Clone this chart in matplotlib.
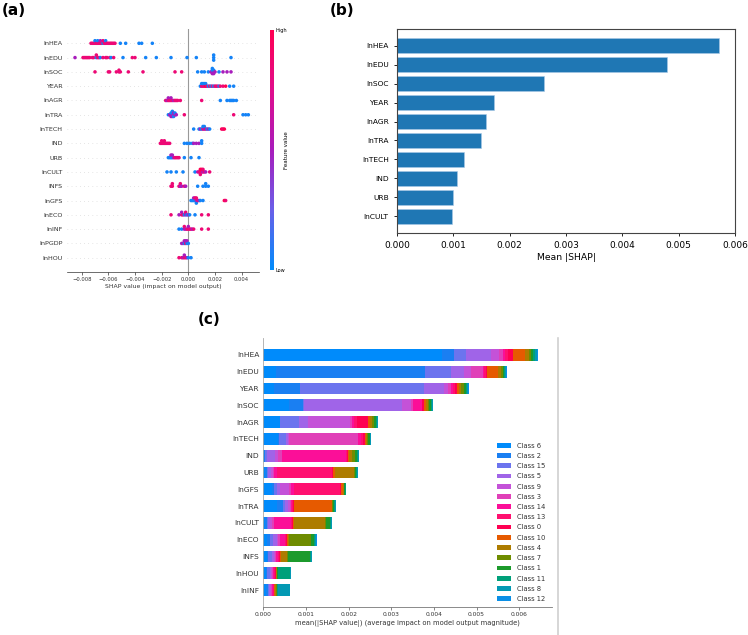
import numpy as np
import matplotlib

matplotlib.use("Agg")
import matplotlib.pyplot as plt
from matplotlib.colors import LinearSegmentedColormap
from matplotlib.cm import ScalarMappable
from matplotlib.lines import Line2D

# ---------------- panel (a): beeswarm data ----------------
a_features = ["lnHEA", "lnEDU", "lnSOC", "YEAR", "lnAGR", "lnTRA", "lnTECH", "IND",
              "URB", "lnCULT", "INFS", "lnGFS", "lnECO", "lnINF", "lnPGDP", "lnHOU"]

# feature value levels (0 = low/blue, 1 = high/red)
b, v, p, r = 0.05, 0.5, 0.85, 1.0

hea_x = [-0.0073, -0.0072, -0.0071, -0.0070, -0.0070, -0.0069, -0.0068, -0.0068, -0.0067, -0.0066,
         -0.0066, -0.0065, -0.0064, -0.0064, -0.0063, -0.0062, -0.0062, -0.0061, -0.0060, -0.0059,
         -0.0058, -0.0057, -0.0056, -0.0055, -0.0051, -0.0047, -0.0037, -0.0035, -0.0027]
hea_c = [p, p, p, p, b, p, p, b, p, p, v, p, b, p, p, p, b, p, p, p, p, p, p, p, b, b, b, b, b]
edu_x = [-0.0085, -0.0079, -0.0078, -0.0077, -0.0076, -0.0075, -0.0074, -0.0072, -0.0071, -0.0069,
         -0.0069, -0.0068, -0.0067, -0.0066, -0.0064, -0.0062, -0.0061, -0.0059, -0.0058, -0.0056,
         -0.0049, -0.0042, -0.0040, -0.0032, -0.0024, -0.0013, -0.0001, 0.0006, 0.0019, 0.0019,
         0.0019, 0.0032]
edu_c = [v, p, p, p, p, p, p, p, p, b, p, p, p, b, p, p, p, p, b, p, b, p, p, b, b, b, b, b, b, b, b, b]
soc_x = [-0.0070, -0.0060, -0.0059, -0.0054, -0.0052, -0.0052, -0.0051, -0.0045, -0.0034, -0.0010,
         -0.0005, 0.0007, 0.0010, 0.0012, 0.0015, 0.0017, 0.0018, 0.0018, 0.0018, 0.0018, 0.0019,
         0.0019, 0.0019, 0.0020, 0.0023, 0.0026, 0.0029, 0.0032]
soc_c = [p, p, p, p, p, p, p, p, p, p, p, b, b, b, b, v, v, b, v, b, v, b, v, v, b, v, v, v]
year_x = [0.0009, 0.0010, 0.0010, 0.0011, 0.0011, 0.0012, 0.0012, 0.0013, 0.0013, 0.0014, 0.0015,
          0.0016, 0.0017, 0.0018, 0.0019, 0.0020, 0.0021, 0.0022, 0.0023, 0.0024, 0.0026, 0.0028,
          0.0031, 0.0034]
year_c = [b, p, b, p, b, p, b, r, b, p, b, p, b, p, b, p, p, p, b, p, p, r, b, b]
agr_x = [-0.0017, -0.0016, -0.0015, -0.0015, -0.0014, -0.0013, -0.0013, -0.0012, -0.0011, -0.0010,
         -0.0009, -0.0008, -0.0006, 0.0010, 0.0024, 0.0029, 0.0031, 0.0032, 0.0033, 0.0034, 0.0036]
agr_c = [p, v, p, v, p, p, v, p, v, p, p, p, p, p, b, b, b, b, b, b, b]
tra_x = [-0.0015, -0.0014, -0.0013, -0.0013, -0.0013, -0.0012, -0.0012, -0.0012, -0.0012, -0.0011,
         -0.0011, -0.0011, -0.0010, -0.0010, -0.0009, -0.0003, 0.0034, 0.0041, 0.0043, 0.0045]
tra_c = [b, v, v, b, v, v, b, v, b, v, v, b, v, b, v, p, p, b, b, b]
tech_x = [0.0004, 0.0008, 0.0009, 0.0010, 0.0011, 0.0011, 0.0012, 0.0012, 0.0013, 0.0014, 0.0015,
          0.0016, 0.0025, 0.0026, 0.0027]
tech_c = [b, b, v, b, p, b, v, b, p, b, v, b, r, p, r]
ind_x = [-0.0021, -0.0020, -0.0020, -0.0019, -0.0018, -0.0018, -0.0017, -0.0016, -0.0015, -0.0014,
         -0.0003, -0.0001, 0.0001, 0.0003, 0.0004, 0.0006, 0.0008, 0.0010, 0.0010]
ind_c = [p, p, p, p, p, p, p, p, p, p, b, b, b, b, v, v, v, b, b]
urb_x = [-0.0015, -0.0014, -0.0013, -0.0013, -0.0012, -0.0012, -0.0011, -0.0010, -0.0009, -0.0008,
         -0.0007, -0.0003, 0.0002, 0.0008]
urb_c = [b, b, b, v, b, v, v, p, p, p, p, b, b, b]
cult_x = [-0.0016, -0.0013, -0.0009, -0.0004, 0.0005, 0.0007, 0.0008, 0.0009, 0.0009, 0.0009, 0.0010,
          0.0010, 0.0011, 0.0011, 0.0012, 0.0013, 0.0016]
cult_c = [b, b, b, b, b, v, p, p, r, p, p, r, v, p, p, v, p]
infs_x = [-0.0013, -0.0012, -0.0012, -0.0007, -0.0006, -0.0006, -0.0005, -0.0003, -0.0002, 0.0007,
          0.0011, 0.0013, 0.0013, 0.0015]
infs_c = [p, p, p, p, v, p, v, p, v, b, b, b, b, b]
gfs_x = [0.0002, 0.0003, 0.0004, 0.0004, 0.0005, 0.0005, 0.0006, 0.0006, 0.0006, 0.0007, 0.0008,
         0.0009, 0.0011, 0.0027, 0.0028]
gfs_c = [b, b, b, v, b, p, v, p, b, p, v, b, b, r, p]
eco_x = [-0.0013, -0.0007, -0.0005, -0.0005, -0.0004, -0.0003, -0.0002, -0.0002, -0.0001, 0.0000,
         0.0001, 0.0005, 0.0010, 0.0015]
eco_c = [p, v, p, v, p, b, v, p, b, v, b, b, p, p]
inf_x = [-0.0007, -0.0005, -0.0003, -0.0003, -0.0002, -0.0001, 0.0000, 0.0000, 0.0001, 0.0002,
         0.0003, 0.0004, 0.0010, 0.0015]
inf_c = [b, b, v, p, v, p, p, v, p, p, v, p, p, p]
pgdp_x = [-0.0005, -0.0004, -0.0003, -0.0003, -0.0002, -0.0002, -0.0001, -0.0001, 0.0000]
pgdp_c = [v, v, b, v, p, v, b, v, b]
hou_x = [-0.0007, -0.0005, -0.0004, -0.0003, -0.0003, -0.0002, -0.0001, 0.0000, 0.0002]
hou_c = [p, p, v, p, v, p, v, b, b]

a_x = [hea_x, edu_x, soc_x, year_x, agr_x, tra_x, tech_x, ind_x, urb_x, cult_x, infs_x,
       gfs_x, eco_x, inf_x, pgdp_x, hou_x]
a_c = [hea_c, edu_c, soc_c, year_c, agr_c, tra_c, tech_c, ind_c, urb_c, cult_c, infs_c,
       gfs_c, eco_c, inf_c, pgdp_c, hou_c]

# ---------------- panel (b) ----------------
b_features = ["lnHEA", "lnEDU", "lnSOC", "YEAR", "lnAGR", "lnTRA", "lnTECH", "IND", "URB", "lnCULT"]
b_values = [0.00572, 0.00479, 0.00261, 0.00173, 0.00158, 0.00149, 0.00119, 0.00107, 0.00100, 0.00097]

# ---------------- panel (c) ----------------
c_features = ["lnHEA", "lnEDU", "YEAR", "lnSOC", "lnAGR", "lnTECH", "IND", "URB", "lnGFS",
              "lnTRA", "lnCULT", "lnECO", "INFS", "lnHOU", "lnINF"]
class_names = ["Class 6", "Class 2", "Class 15", "Class 5", "Class 9", "Class 3", "Class 14",
               "Class 13", "Class 0", "Class 10", "Class 4", "Class 7", "Class 1", "Class 11",
               "Class 8", "Class 12"]
class_colors = ["#008bfb", "#1a7ff2", "#6c74ee", "#a064e8", "#c452d8", "#e040b8", "#fb0f98",
                "#ff1070", "#ff0052", "#e65a00", "#ad7c00", "#6f8c00", "#1c9a2c", "#00a07a",
                "#0399b3", "#0a8fe6"]
cls6 = [0.00418, 0.00030, 0.00025, 0.00061, 0.00038, 0.00035, 0.00002, 0.00004, 0.00020, 0.00031, 0.00004, 0.00009, 0.00008, 0.00006, 0.00006]
cls2 = [0.00029, 0.00349, 0.00061, 0.00031, 0.00002, 0.00002, 0.00003, 0.00004, 0.00004, 0.00016, 0.00004, 0.00006, 0.00004, 0.00003, 0.00004]
cls15 = [0.00027, 0.00060, 0.00291, 0.00004, 0.00043, 0.00016, 0.00004, 0.00004, 0.00009, 0.00004, 0.00004, 0.00008, 0.00008, 0.00006, 0.00004]
cls5 = [0.00059, 0.00032, 0.00047, 0.00228, 0.00021, 0.00004, 0.00018, 0.00006, 0.00005, 0.00008, 0.00004, 0.00008, 0.00005, 0.00004, 0.00002]
cls9 = [0.00020, 0.00017, 0.00008, 0.00022, 0.00100, 0.00004, 0.00008, 0.00004, 0.00023, 0.00004, 0.00004, 0.00004, 0.00003, 0.00002, 0.00002]
cls3 = [0.00009, 0.00026, 0.00009, 0.00004, 0.00004, 0.00162, 0.00008, 0.00003, 0.00005, 0.00003, 0.00004, 0.00004, 0.00002, 0.00002, 0.00002]
cls14 = [0.00005, 0.00004, 0.00004, 0.00021, 0.00004, 0.00006, 0.00152, 0.00008, 0.00005, 0.00002, 0.00041, 0.00012, 0.00004, 0.00002, 0.00002]
cls13 = [0.00007, 0.00003, 0.00004, 0.00002, 0.00008, 0.00005, 0.00002, 0.00127, 0.00109, 0.00002, 0.00002, 0.00002, 0.00002, 0.00002, 0.00002]
cls0 = [0.00012, 0.00004, 0.00004, 0.00003, 0.00025, 0.00005, 0.00002, 0.00004, 0.00003, 0.00002, 0.00002, 0.00002, 0.00002, 0.00002, 0.00002]
cls10 = [0.00028, 0.00026, 0.00005, 0.00005, 0.00006, 0.00002, 0.00002, 0.00004, 0.00003, 0.00088, 0.00002, 0.00002, 0.00003, 0.00001, 0.00001]
cls4 = [0.00008, 0.00005, 0.00006, 0.00004, 0.00004, 0.00003, 0.00006, 0.00045, 0.00003, 0.00001, 0.00074, 0.00003, 0.00014, 0.00001, 0.00002]
cls7 = [0.00005, 0.00005, 0.00006, 0.00004, 0.00004, 0.00002, 0.00009, 0.00002, 0.00001, 0.00002, 0.00002, 0.00052, 0.00004, 0.00001, 0.00002]
cls1 = [0.00005, 0.00004, 0.00005, 0.00005, 0.00005, 0.00003, 0.00004, 0.00002, 0.00002, 0.00002, 0.00010, 0.00008, 0.00051, 0.00002, 0.00002]
cls11 = [0.00005, 0.00002, 0.00003, 0.00002, 0.00002, 0.00002, 0.00002, 0.00002, 0.00002, 0.00003, 0.00002, 0.00002, 0.00002, 0.00029, 0.00002]
cls8 = [0.00004, 0.00002, 0.00002, 0.00002, 0.00002, 0.00002, 0.00002, 0.00002, 0.00001, 0.00002, 0.00002, 0.00002, 0.00002, 0.00001, 0.00027]
cls12 = [0.00004, 0.00002, 0.00001, 0.0, 0.00002, 0.0, 0.0, 0.0, 0.0, 0.00001, 0.00001, 0.00001, 0.0, 0.00001, 0.0]
class_vals = [cls6, cls2, cls15, cls5, cls9, cls3, cls14, cls13, cls0, cls10, cls4, cls7, cls1,
              cls11, cls8, cls12]

red_blue = LinearSegmentedColormap.from_list(
    "red_blue", ["#008bfb", "#6a5fe8", "#a81cbc", "#e00d8c", "#ff0052"])


def swarm(xs, width=0.0001, row_height=0.4):
    # shap-style beeswarm offsets
    xs = np.asarray(xs)
    quant = np.round(xs / width)
    order = np.argsort(quant, kind="stable")
    ys = np.zeros(len(xs))
    layer, last = 0, None
    for k in order:
        if quant[k] != last:
            layer = 0
        ys[k] = np.ceil(layer / 2) * ((layer % 2) * 2 - 1)
        layer += 1
        last = quant[k]
    ys *= 0.9 * (row_height / np.max(ys + 1))
    return ys


fig = plt.figure(figsize=(7.48, 6.35), dpi=100)
W, H = 748, 635


def box(x0, y0, x1, y1):
    return [x0 / W, 1 - y1 / H, (x1 - x0) / W, (y1 - y0) / H]


# ---- (a) ----
ax_a = fig.add_axes(box(67, 29, 259, 272))
n = len(a_features)
for i, (xs, cs) in enumerate(zip(a_x, a_c)):
    y = n - 1 - i
    ax_a.axhline(y, color="#cccccc", lw=0.5, dashes=(1, 5), zorder=-1)
    ax_a.scatter(xs, y + swarm(xs), c=cs, cmap=red_blue, vmin=0, vmax=1, s=6.5,
                 linewidths=0, zorder=3)
ax_a.axvline(0, color="#999999", lw=0.8, zorder=-1)
ax_a.set_yticks(range(n))
ax_a.set_yticklabels(a_features[::-1], fontsize=4.6, color="#333333")
ax_a.set_ylim(-1, n)
ax_a.set_xlim(-0.0091, 0.0053)
ax_a.set_xticks([-0.008, -0.006, -0.004, -0.002, 0.0, 0.002, 0.004])
ax_a.set_xticklabels(["\u22120.008", "\u22120.006", "\u22120.004", "\u22120.002", "0.000", "0.002", "0.004"],
                     fontsize=3.8, color="#333333")
ax_a.tick_params(axis="y", length=0, pad=3)
ax_a.tick_params(axis="x", length=2, width=0.5, pad=1.5, color="#333333")
for s in ["left", "right", "top"]:
    ax_a.spines[s].set_visible(False)
ax_a.spines["bottom"].set_linewidth(0.5)
ax_a.spines["bottom"].set_color("#333333")
ax_a.set_xlabel("SHAP value (impact on model output)", fontsize=4.4, labelpad=1.5, color="#333333")

cax = fig.add_axes(box(270, 30, 273.5, 270))
cb = fig.colorbar(ScalarMappable(cmap=red_blue), cax=cax, ticks=[0, 1])
cb.set_ticklabels(["Low", "High"])
cb.ax.tick_params(labelsize=3.6, length=0, pad=1.5)
cb.outline.set_visible(False)
cb.set_label("Feature value", fontsize=4, labelpad=-2)

fig.text(0.003, 0.995, "(a)", fontsize=11, fontweight="bold", va="top", ha="left")

# ---- (b) ----
ax_b = fig.add_axes(box(397, 29, 735, 233))
ax_b.barh(range(len(b_values)), b_values, color="#1f77b4", edgecolor="#a9c9e6", linewidth=0.4)
ax_b.set_yticks(range(len(b_features)))
ax_b.set_yticklabels(b_features, fontsize=5.4)
ax_b.invert_yaxis()
ax_b.set_xlim(0, 0.006)
ax_b.set_xticks(np.arange(0, 0.0061, 0.001))
ax_b.set_xticklabels(["0.000", "0.001", "0.002", "0.003", "0.004", "0.005", "0.006"], fontsize=6.5)
ax_b.tick_params(axis="both", length=2.5, width=0.6)
ax_b.set_xlabel("Mean |SHAP|", fontsize=6.7, labelpad=2)
for s in ax_b.spines.values():
    s.set_linewidth(0.8)
    s.set_color("#444444")
fig.text(330 / W, 0.995, "(b)", fontsize=11, fontweight="bold", va="top", ha="left")

# ---- (c) ----
ax_c = fig.add_axes(box(263.3, 338, 551.7, 607))
m = len(c_features)
ypos = np.arange(m)[::-1]
left = np.zeros(m)
for name, col, vals in zip(class_names, class_colors, class_vals):
    vals = np.asarray(vals)
    ax_c.barh(ypos, vals, 0.7, left=left, color=col, label=name, linewidth=0)
    left += vals
ax_c.set_yticks(ypos)
ax_c.set_yticklabels(c_features, fontsize=5.4, color="#333333")
ax_c.set_ylim(-1, m)
ax_c.set_xlim(0, 0.00676)
ax_c.set_xticks(np.arange(0, 0.0061, 0.001))
ax_c.set_xticklabels(["0.000", "0.001", "0.002", "0.003", "0.004", "0.005", "0.006"],
                     fontsize=4.3, color="#333333")
ax_c.tick_params(axis="y", length=0, pad=3)
ax_c.tick_params(axis="x", length=2, width=0.5, pad=1.5, color="#555555")
ax_c.spines["right"].set_visible(False)
ax_c.spines["top"].set_visible(False)
ax_c.spines["left"].set_color("#aaaaaa")
ax_c.spines["left"].set_linewidth(0.6)
ax_c.spines["bottom"].set_color("#777777")
ax_c.spines["bottom"].set_linewidth(0.6)
ax_c.set_xlabel("mean(|SHAP value|) (average impact on model output magnitude)",
                fontsize=4.9, labelpad=2, color="#333333")
ax_c.legend(frameon=False, fontsize=4.9, loc="lower left",
            bbox_to_anchor=(497 / W, 1 - 602 / H), bbox_transform=fig.transFigure,
            borderaxespad=0, borderpad=0, handlelength=2.0, handletextpad=0.9,
            labelspacing=0.62, labelcolor="#333333")
fig.text(198 / W, 1 - 312 / H, "(c)", fontsize=11, fontweight="bold", va="top", ha="left")

fig.add_artist(Line2D([557.5 / W, 557.5 / W], [0, 1 - 338 / H], color="#d0d0d0", lw=1.2,
                      transform=fig.transFigure))

fig.savefig("out.png", dpi=100)
